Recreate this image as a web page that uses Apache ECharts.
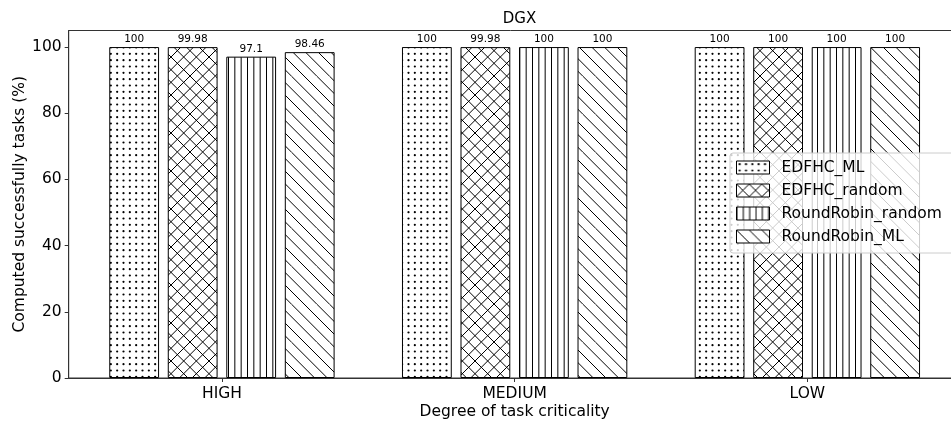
<!DOCTYPE html>
<html>
<head>
<meta charset="utf-8">
<script src="https://cdn.jsdelivr.net/npm/echarts@6/dist/echarts.min.js"></script>
<style>
  html, body { margin: 0; padding: 0; background: #fff; }
  #chart { width: 951px; height: 421px; }
</style>
</head>
<body>
<div id="chart"></div>
<script>
// Task criticality groups on the x axis
const categories = ['HIGH', 'MEDIUM', 'LOW'];
// Share of tasks computed successfully (%), one array per scheduler
const edfhcML = [100, 100, 100];
const edfhcRandom = [99.98, 99.98, 100];
const roundRobinRandom = [97.1, 100, 100];
const roundRobinML = [98.46, 100, 100];
const seriesNames = ['EDFHC_ML', 'EDFHC_random', 'RoundRobin_random', 'RoundRobin_ML'];
const yTicks = [0, 20, 40, 60, 80, 100];

const FONT = 'DejaVu Sans';
const FS = 15.5;

// Hatch tiles (drawn on small canvases, repeated as fill patterns)
function tile(size, draw) {
  const c = document.createElement('canvas');
  c.width = size; c.height = size;
  const ctx = c.getContext('2d');
  ctx.fillStyle = '#fff';
  ctx.fillRect(0, 0, size, size);
  ctx.strokeStyle = '#000';
  ctx.fillStyle = '#000';
  ctx.lineWidth = 1;
  draw(ctx, size);
  return c;
}
function dotsTile() {
  return tile(19, (ctx, s) => {
    const p = s / 3;
    for (let i = 0; i < 3; i++) for (let j = 0; j < 3; j++) {
      ctx.beginPath();
      ctx.arc(i * p + p / 2, j * p + p / 2, 1.1, 0, Math.PI * 2);
      ctx.fill();
    }
  });
}
function diagTile(both) {
  return tile(38, (ctx, s) => {
    const n = 3, p = s / n;
    ctx.beginPath();
    for (let k = -n; k <= 2 * n; k++) {
      ctx.moveTo(k * p, 0); ctx.lineTo(k * p + s, s);
      if (both) { ctx.moveTo(k * p, s); ctx.lineTo(k * p + s, 0); }
    }
    ctx.stroke();
  });
}
function vertTile() {
  return tile(19, (ctx, s) => {
    const p = s / 3;
    ctx.beginPath();
    for (let k = 0; k < 3; k++) { ctx.moveTo(k * p + 0.5, 0); ctx.lineTo(k * p + 0.5, s); }
    ctx.stroke();
  });
}
const patterns = [dotsTile(), diagTile(true), vertTile(), diagTile(false)];
const values = [edfhcML, edfhcRandom, roundRobinRandom, roundRobinML];

const chart = echarts.init(document.getElementById('chart'), null, { renderer: 'canvas' });

const series = seriesNames.map((name, si) => ({
  name: name,
  type: 'bar',
  data: values[si].map((v, i) => [i, v]),
  barWidth: 49.8,
  barGap: '17.5%',
  itemStyle: {
    color: { image: patterns[si], repeat: 'repeat' },
    borderColor: '#000',
    borderWidth: 1
  },
  label: {
    show: true,
    position: 'top',
    distance: 2,
    fontFamily: FONT,
    fontSize: 10.5,
    color: '#000',
    formatter: p => String(p.value[1])
  }
}));

chart.setOption({
  animation: false,
  backgroundColor: '#fff',
  textStyle: { fontFamily: FONT },
  title: {
    text: 'DGX',
    left: 514.5,
    top: 7,
    textAlign: 'center',
    textStyle: { fontFamily: FONT, fontSize: 15, fontWeight: 'normal', color: '#000' }
  },
  grid: {
    left: 68.7, width: 891.9, top: 30.5, bottom: 43,
    outerBoundsMode: 'none',
    containLabel: false,
    show: true, borderColor: '#333', borderWidth: 1, backgroundColor: 'transparent'
  },
  legend: {
    orient: 'vertical',
    left: 730,
    top: 153,
    data: seriesNames,
    icon: 'rect',
    itemWidth: 33,
    itemHeight: 13,
    itemGap: 6,
    padding: [6, 40, 8, 6],
    backgroundColor: 'rgba(255,255,255,0.8)',
    borderColor: '#ccc',
    borderWidth: 1,
    borderRadius: 3,
    itemStyle: { borderColor: '#000', borderWidth: 1 },
    textStyle: { fontFamily: FONT, fontSize: FS, color: '#000', lineHeight: 17, padding: [0, 0, 0, 7] }
  },
  xAxis: {
    type: 'value',
    min: -0.5235,
    max: 2.5235,
    name: 'Degree of task criticality',
    nameLocation: 'middle',
    nameGap: 26,
    nameMoveOverlap: false,
    nameTextStyle: { fontFamily: FONT, fontSize: FS, color: '#000' },
    axisLine: { show: true, onZero: false, lineStyle: { color: '#333', width: 1 } },
    axisTick: { show: true, length: 4, lineStyle: { color: '#333' }, customValues: [0, 1, 2] },
    axisLabel: {
      customValues: [0, 1, 2],
      formatter: v => categories[Math.round(v)],
      fontFamily: FONT, fontSize: FS, color: '#000', margin: 8
    },
    splitLine: { show: false }
  },
  yAxis: {
    type: 'value',
    min: 0,
    max: 105,
    name: 'Computed successfully tasks (%)',
    nameLocation: 'middle',
    nameGap: 41,
    nameMoveOverlap: false,
    nameTextStyle: { fontFamily: FONT, fontSize: FS, color: '#000' },
    axisLine: { show: true, onZero: false, lineStyle: { color: '#333', width: 1 } },
    axisTick: { show: true, length: 4, lineStyle: { color: '#333' }, customValues: yTicks },
    axisLabel: {
      customValues: yTicks,
      fontFamily: FONT, fontSize: FS, color: '#000', margin: 7
    },
    splitLine: { show: false }
  },
  series: series
});
</script>
</body>
</html>
